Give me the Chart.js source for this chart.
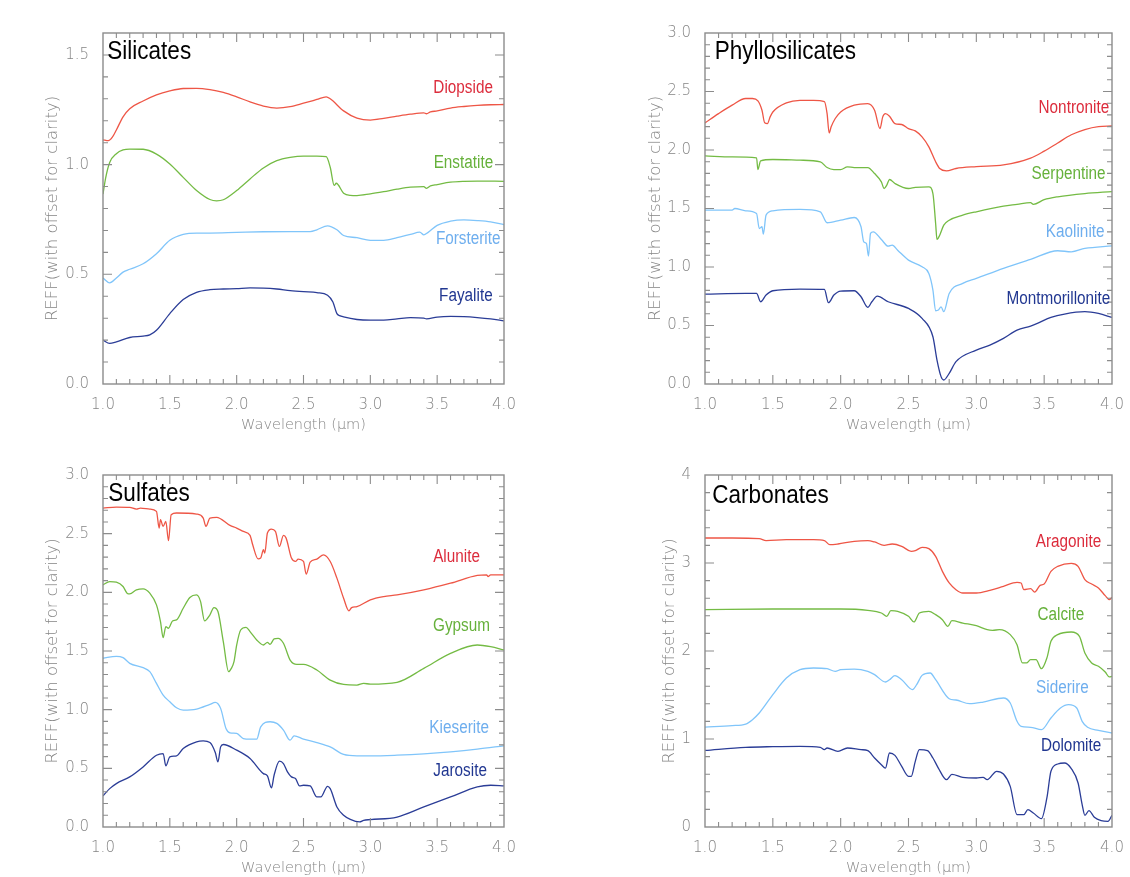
<!DOCTYPE html>
<html>
<head>
<meta charset="utf-8">
<script src="https://cdn.jsdelivr.net/npm/chart.js@4.4.1/dist/chart.umd.min.js"></script>
<style>
  body { margin: 0; background: #fff; width: 1130px; height: 877px; position: relative; overflow: hidden; }
  canvas { position: absolute; }
</style>
</head>
<body>
<canvas id="silicates" width="530" height="440" style="left:0;top:0"></canvas>
<canvas id="phyllo" width="560" height="440" style="left:570px;top:0"></canvas>
<canvas id="sulfates" width="530" height="437" style="left:0;top:440px"></canvas>
<canvas id="carbonates" width="560" height="437" style="left:570px;top:440px"></canvas>
<script>
// spectra: [wavelength (um), REFF with offset]

// Silicates
const diopside = [[1.0,1.113],[1.04,1.109],[1.07,1.125],[1.1,1.158],[1.15,1.218],[1.2,1.255],[1.3,1.29],[1.4,1.318],[1.5,1.336],[1.6,1.347],[1.7,1.348],[1.8,1.342],[1.9,1.329],[2.0,1.309],[2.1,1.286],[2.2,1.267],[2.3,1.258],[2.4,1.264],[2.5,1.28],[2.6,1.297],[2.67,1.309],[2.7,1.3],[2.8,1.245],[2.9,1.212],[3.0,1.203],[3.1,1.211],[3.2,1.221],[3.3,1.23],[3.4,1.236],[3.42,1.232],[3.45,1.24],[3.5,1.245],[3.6,1.258],[3.7,1.265],[3.8,1.27],[3.9,1.273],[4.0,1.274]];
const enstatite = [[1.0,0.866],[1.02,0.94],[1.05,1.01],[1.1,1.05],[1.15,1.067],[1.2,1.071],[1.3,1.07],[1.4,1.048],[1.5,1.003],[1.6,0.942],[1.7,0.882],[1.8,0.841],[1.85,0.835],[1.9,0.84],[2.0,0.882],[2.1,0.935],[2.2,0.985],[2.3,1.018],[2.4,1.033],[2.5,1.039],[2.6,1.039],[2.67,1.036],[2.7,0.988],[2.73,0.905],[2.745,0.915],[2.8,0.87],[2.85,0.86],[2.9,0.859],[3.0,0.867],[3.1,0.877],[3.2,0.888],[3.3,0.897],[3.4,0.9],[3.42,0.892],[3.45,0.903],[3.5,0.909],[3.6,0.92],[3.7,0.924],[3.8,0.925],[4.0,0.924]];
const forsterite = [[1.0,0.483],[1.05,0.461],[1.1,0.483],[1.15,0.51],[1.2,0.523],[1.3,0.548],[1.4,0.594],[1.5,0.655],[1.6,0.682],[1.7,0.688],[1.8,0.688],[2.0,0.691],[2.2,0.694],[2.4,0.695],[2.55,0.695],[2.6,0.703],[2.68,0.721],[2.75,0.703],[2.8,0.677],[2.9,0.667],[3.0,0.655],[3.1,0.655],[3.2,0.667],[3.3,0.682],[3.37,0.692],[3.4,0.68],[3.43,0.69],[3.5,0.723],[3.6,0.742],[3.7,0.748],[3.8,0.745],[3.9,0.739],[4.0,0.726]];
const fayalite = [[1.0,0.2],[1.05,0.185],[1.1,0.192],[1.2,0.212],[1.3,0.218],[1.35,0.224],[1.4,0.245],[1.5,0.321],[1.6,0.385],[1.7,0.418],[1.8,0.43],[1.9,0.433],[2.0,0.435],[2.1,0.438],[2.2,0.437],[2.3,0.433],[2.4,0.426],[2.5,0.421],[2.6,0.417],[2.68,0.405],[2.72,0.374],[2.75,0.321],[2.77,0.312],[2.8,0.306],[2.9,0.294],[3.0,0.291],[3.1,0.291],[3.2,0.297],[3.3,0.303],[3.4,0.3],[3.42,0.297],[3.5,0.305],[3.6,0.308],[3.7,0.307],[3.8,0.303],[3.9,0.297],[4.0,0.288]];

// Phyllosilicates
const nontronite = [[1.0,2.232],[1.1,2.311],[1.2,2.383],[1.3,2.44],[1.35,2.44],[1.39,2.42],[1.42,2.34],[1.44,2.232],[1.46,2.226],[1.48,2.283],[1.5,2.325],[1.6,2.403],[1.7,2.425],[1.8,2.425],[1.88,2.414],[1.9,2.311],[1.915,2.146],[1.93,2.198],[1.96,2.269],[2.0,2.325],[2.1,2.383],[2.2,2.397],[2.25,2.34],[2.29,2.183],[2.31,2.283],[2.33,2.311],[2.36,2.289],[2.4,2.226],[2.45,2.218],[2.5,2.183],[2.55,2.163],[2.6,2.112],[2.65,2.027],[2.7,1.899],[2.73,1.842],[2.78,1.822],[2.85,1.842],[3.0,1.858],[3.2,1.872],[3.4,1.93],[3.5,1.99],[3.6,2.06],[3.7,2.13],[3.8,2.175],[3.9,2.2],[4.0,2.205]];
const serpentine = [[1.0,1.95],[1.2,1.941],[1.38,1.933],[1.39,1.833],[1.41,1.907],[1.5,1.919],[1.7,1.913],[1.85,1.899],[1.9,1.85],[1.95,1.833],[2.0,1.833],[2.05,1.856],[2.1,1.85],[2.2,1.85],[2.25,1.799],[2.3,1.728],[2.32,1.671],[2.34,1.7],[2.36,1.748],[2.4,1.714],[2.5,1.671],[2.55,1.68],[2.65,1.685],[2.68,1.628],[2.7,1.372],[2.71,1.235],[2.73,1.272],[2.76,1.358],[2.8,1.4],[2.9,1.443],[3.0,1.472],[3.2,1.52],[3.3,1.535],[3.4,1.55],[3.42,1.535],[3.5,1.575],[3.6,1.6],[3.8,1.628],[4.0,1.645]];
const kaolinite = [[1.0,1.486],[1.2,1.486],[1.22,1.5],[1.3,1.48],[1.38,1.457],[1.4,1.329],[1.42,1.344],[1.43,1.281],[1.45,1.443],[1.5,1.48],[1.7,1.492],[1.85,1.472],[1.9,1.378],[2.0,1.4],[2.1,1.423],[2.15,1.344],[2.17,1.215],[2.19,1.201],[2.205,1.093],[2.22,1.287],[2.24,1.301],[2.3,1.235],[2.35,1.178],[2.38,1.187],[2.42,1.144],[2.5,1.059],[2.6,1.002],[2.65,0.945],[2.68,0.803],[2.7,0.626],[2.72,0.632],[2.74,0.66],[2.76,0.618],[2.8,0.774],[2.9,0.86],[3.0,0.902],[3.2,0.988],[3.4,1.065],[3.6,1.139],[3.7,1.13],[3.8,1.159],[4.0,1.181]];
const montmorillonite = [[1.0,0.769],[1.3,0.774],[1.38,0.774],[1.41,0.703],[1.45,0.76],[1.5,0.797],[1.7,0.811],[1.88,0.808],[1.91,0.695],[1.95,0.76],[2.0,0.794],[2.1,0.797],[2.15,0.746],[2.2,0.655],[2.23,0.703],[2.27,0.751],[2.35,0.703],[2.5,0.646],[2.6,0.561],[2.68,0.404],[2.71,0.205],[2.74,0.063],[2.76,0.034],[2.8,0.091],[2.85,0.191],[3.0,0.29],[3.1,0.333],[3.2,0.39],[3.3,0.461],[3.4,0.495],[3.45,0.518],[3.55,0.569],[3.65,0.598],[3.8,0.618],[3.9,0.603],[4.0,0.569]];

// Sulfates
const alunite = [[1.0,2.718],[1.1,2.727],[1.2,2.724],[1.25,2.71],[1.28,2.718],[1.35,2.71],[1.4,2.69],[1.42,2.548],[1.43,2.619],[1.45,2.562],[1.47,2.605],[1.49,2.44],[1.51,2.662],[1.55,2.676],[1.7,2.667],[1.75,2.633],[1.77,2.562],[1.8,2.633],[1.85,2.639],[1.95,2.57],[2.0,2.548],[2.05,2.519],[2.1,2.485],[2.12,2.405],[2.16,2.286],[2.18,2.292],[2.2,2.363],[2.21,2.334],[2.23,2.505],[2.26,2.539],[2.29,2.519],[2.32,2.391],[2.35,2.485],[2.37,2.462],[2.41,2.292],[2.44,2.263],[2.46,2.283],[2.5,2.263],[2.52,2.155],[2.55,2.257],[2.6,2.283],[2.65,2.32],[2.7,2.263],[2.75,2.121],[2.8,1.95],[2.84,1.842],[2.86,1.87],[2.9,1.879],[3.0,1.936],[3.1,1.964],[3.2,1.978],[3.4,2.021],[3.6,2.078],[3.8,2.144],[3.87,2.149],[3.88,2.135],[3.9,2.149],[4.0,2.149]];
const gypsum = [[1.0,2.064],[1.05,2.092],[1.1,2.087],[1.15,2.05],[1.18,1.993],[1.2,1.987],[1.25,2.021],[1.3,2.03],[1.35,1.993],[1.4,1.893],[1.43,1.751],[1.45,1.614],[1.47,1.708],[1.49,1.694],[1.52,1.756],[1.55,1.765],[1.6,1.864],[1.65,1.956],[1.7,1.978],[1.73,1.921],[1.76,1.756],[1.8,1.808],[1.83,1.87],[1.86,1.836],[1.9,1.58],[1.94,1.324],[1.96,1.352],[1.98,1.409],[2.0,1.551],[2.03,1.679],[2.07,1.702],[2.1,1.665],[2.15,1.594],[2.2,1.551],[2.23,1.574],[2.25,1.557],[2.28,1.603],[2.31,1.608],[2.35,1.566],[2.4,1.423],[2.45,1.386],[2.5,1.386],[2.6,1.338],[2.7,1.252],[2.8,1.215],[2.9,1.21],[2.95,1.224],[3.0,1.218],[3.2,1.233],[3.4,1.352],[3.6,1.48],[3.8,1.551],[3.9,1.537],[4.0,1.509]];
const kieserite = [[1.0,1.438],[1.1,1.455],[1.15,1.443],[1.2,1.395],[1.3,1.358],[1.35,1.324],[1.4,1.224],[1.45,1.124],[1.5,1.067],[1.55,1.016],[1.6,0.996],[1.7,1.005],[1.8,1.045],[1.84,1.062],[1.88,1.011],[1.92,0.84],[1.95,0.803],[2.0,0.797],[2.05,0.754],[2.1,0.749],[2.15,0.749],[2.18,0.854],[2.25,0.897],[2.3,0.883],[2.35,0.826],[2.4,0.74],[2.43,0.777],[2.5,0.749],[2.6,0.72],[2.7,0.683],[2.8,0.618],[2.9,0.606],[3.0,0.606],[3.2,0.612],[3.4,0.623],[3.6,0.64],[3.8,0.663],[4.0,0.692]];
const jarosite = [[1.0,0.265],[1.05,0.327],[1.1,0.37],[1.2,0.427],[1.3,0.512],[1.4,0.612],[1.45,0.626],[1.47,0.521],[1.5,0.598],[1.55,0.606],[1.6,0.669],[1.7,0.726],[1.75,0.734],[1.8,0.72],[1.84,0.635],[1.86,0.555],[1.88,0.683],[1.9,0.703],[2.0,0.655],[2.1,0.584],[2.2,0.455],[2.23,0.436],[2.26,0.333],[2.28,0.441],[2.32,0.561],[2.35,0.541],[2.38,0.47],[2.41,0.427],[2.44,0.413],[2.47,0.35],[2.5,0.356],[2.55,0.35],[2.6,0.256],[2.63,0.256],[2.68,0.347],[2.7,0.327],[2.75,0.171],[2.8,0.1],[2.85,0.065],[2.92,0.043],[2.95,0.057],[3.0,0.063],[3.2,0.085],[3.4,0.171],[3.6,0.256],[3.8,0.342],[3.9,0.356],[4.0,0.35]];

// Carbonates
const aragonite = [[1.0,3.284],[1.2,3.284],[1.4,3.277],[1.45,3.254],[1.6,3.265],[1.8,3.265],[1.88,3.254],[1.92,3.208],[1.98,3.216],[2.1,3.246],[2.2,3.254],[2.25,3.239],[2.32,3.201],[2.38,3.216],[2.45,3.19],[2.52,3.133],[2.55,3.14],[2.6,3.178],[2.65,3.163],[2.7,3.076],[2.75,2.905],[2.8,2.773],[2.85,2.697],[2.9,2.659],[3.0,2.659],[3.1,2.689],[3.2,2.735],[3.3,2.78],[3.33,2.773],[3.35,2.697],[3.4,2.708],[3.43,2.67],[3.47,2.746],[3.5,2.761],[3.55,2.905],[3.6,2.962],[3.7,2.996],[3.75,2.962],[3.8,2.811],[3.85,2.761],[3.9,2.716],[3.95,2.629],[3.98,2.583],[4.0,2.61]];
const calcite = [[1.0,2.47],[1.5,2.477],[2.0,2.477],[2.2,2.462],[2.3,2.432],[2.34,2.394],[2.37,2.458],[2.42,2.451],[2.5,2.394],[2.54,2.33],[2.58,2.432],[2.65,2.451],[2.7,2.413],[2.75,2.356],[2.79,2.28],[2.82,2.345],[2.9,2.318],[3.0,2.288],[3.08,2.242],[3.12,2.235],[3.17,2.242],[3.25,2.186],[3.3,2.072],[3.34,1.864],[3.37,1.864],[3.4,1.902],[3.44,1.902],[3.48,1.799],[3.52,1.92],[3.55,2.11],[3.6,2.186],[3.7,2.216],[3.76,2.167],[3.8,1.977],[3.85,1.864],[3.9,1.826],[3.95,1.761],[3.98,1.705],[4.0,1.712]];
const siderite = [[1.0,1.136],[1.2,1.152],[1.3,1.17],[1.35,1.22],[1.4,1.295],[1.5,1.504],[1.6,1.693],[1.7,1.788],[1.8,1.807],[1.9,1.799],[1.96,1.769],[2.0,1.788],[2.1,1.795],[2.2,1.769],[2.25,1.731],[2.33,1.648],[2.36,1.674],[2.4,1.72],[2.45,1.674],[2.53,1.561],[2.56,1.617],[2.6,1.723],[2.66,1.75],[2.7,1.674],[2.8,1.458],[2.85,1.443],[2.95,1.402],[3.05,1.42],[3.2,1.466],[3.25,1.409],[3.3,1.201],[3.33,1.144],[3.4,1.133],[3.48,1.106],[3.55,1.239],[3.62,1.352],[3.68,1.39],[3.74,1.352],[3.78,1.201],[3.82,1.133],[3.9,1.098],[4.0,1.068]];
const dolomite = [[1.0,0.871],[1.3,0.905],[1.5,0.913],[1.7,0.917],[1.85,0.905],[1.88,0.879],[1.9,0.898],[1.98,0.86],[2.05,0.898],[2.15,0.879],[2.2,0.867],[2.25,0.784],[2.3,0.708],[2.33,0.67],[2.36,0.841],[2.4,0.814],[2.45,0.689],[2.5,0.576],[2.52,0.576],[2.55,0.746],[2.58,0.879],[2.64,0.867],[2.68,0.784],[2.72,0.67],[2.78,0.538],[2.82,0.598],[2.9,0.564],[3.0,0.557],[3.05,0.564],[3.08,0.538],[3.15,0.633],[3.2,0.602],[3.25,0.462],[3.3,0.14],[3.35,0.14],[3.38,0.197],[3.42,0.159],[3.48,0.095],[3.52,0.33],[3.55,0.633],[3.6,0.716],[3.65,0.727],[3.7,0.663],[3.75,0.5],[3.78,0.254],[3.8,0.133],[3.83,0.186],[3.87,0.11],[3.92,0.072],[3.97,0.064],[4.0,0.133]];

// colours: [line, label]
const RED = ['#ee5646', '#dc2c3c'];
const GREEN = ['#74bb44', '#66b13b'];
const LBLUE = ['#80c5fa', '#6eaeee'];
const DBLUE = ['#2b3d97', '#213791'];

const tickGray = '#858585';
const narrow = 0.85;

function drawNarrow(ctx, text, x, y, align) {
    ctx.save();
    ctx.translate(x, y);
    ctx.scale(narrow, 1);
    ctx.textAlign = align;
    ctx.textBaseline = 'middle';
    ctx.fillText(text, 0, 0);
    ctx.restore();
}

// frame, inward ticks on all four sides, panel title and curve names
const panelDecor = {
    id: 'panelDecor',
    afterDatasetsDraw(chart, args, o) {
        const { ctx, chartArea: a, scales: { x, y } } = chart;
        ctx.save();
        ctx.strokeStyle = '#8c8c8c';
        ctx.lineWidth = 1.4;
        ctx.strokeRect(a.left, a.top, a.right - a.left, a.bottom - a.top);

        ctx.lineWidth = 1.1;
        ctx.beginPath();
        const mark = (scale, v, len) => {
            const p = scale.getPixelForValue(v);
            if (scale.axis === 'x') {
                ctx.moveTo(p, a.bottom); ctx.lineTo(p, a.bottom - len);
                ctx.moveTo(p, a.top); ctx.lineTo(p, a.top + len);
            } else {
                ctx.moveTo(a.left, p); ctx.lineTo(a.left + len, p);
                ctx.moveTo(a.right, p); ctx.lineTo(a.right - len, p);
            }
        };
        [[x, o.xMinor], [y, o.yMinor]].forEach(([s, step]) => {
            const n = Math.round((s.max - s.min) / step);
            for (let i = 1; i < n; i++) {
                const v = s.min + i * step;
                const major = s.ticks.some(t => Math.abs(t.value - v) < step / 10);
                mark(s, v, major ? 9 : 5);
            }
        });
        ctx.stroke();

        ctx.fillStyle = '#000';
        ctx.font = '26.5px "Liberation Sans", Arial, sans-serif';
        drawNarrow(ctx, o.title, x.getPixelForValue(o.titleAt[0]), y.getPixelForValue(o.titleAt[1]), 'left');

        ctx.font = '18px "Liberation Sans", Arial, sans-serif';
        o.labels.forEach(l => {
            ctx.fillStyle = l.color;
            drawNarrow(ctx, l.text, x.getPixelForValue(l.at[0]), y.getPixelForValue(l.at[1]), 'right');
        });
        ctx.restore();
    }
};

function makePanel(id, p) {
    return new Chart(document.getElementById(id), {
        type: 'line',
        data: {
            datasets: p.series.map(s => ({
                label: s.name,
                data: s.data.map(([w, r]) => ({ x: w, y: r })),
                borderColor: s.color[0],
                borderWidth: 1.3,
                pointRadius: 0,
                fill: false,
                cubicInterpolationMode: 'monotone'
            }))
        },
        options: {
            responsive: false,
            animation: false,
            layout: { padding: { top: p.padTop, right: p.padRight, left: 0, bottom: 0 } },
            plugins: {
                legend: { display: false },
                tooltip: { enabled: false },
                panelDecor: {
                    title: p.title,
                    titleAt: p.titleAt,
                    xMinor: 0.1,
                    yMinor: p.yMinor,
                    labels: p.series.map((s, i) => ({ text: s.name, color: s.color[1], at: p.labelAt[i] }))
                }
            },
            scales: {
                x: {
                    type: 'linear',
                    min: 1, max: 4,
                    grid: { display: false },
                    border: { display: false },
                    ticks: {
                        stepSize: 0.5,
                        includeBounds: false,
                        maxRotation: 0,
                        padding: 4,
                        color: tickGray,
                        font: { family: 'DejaVu Sans', size: 15, weight: '200' },
                        callback: v => v.toFixed(1)
                    },
                    title: {
                        display: true,
                        text: 'Wavelength (μm)',
                        color: tickGray,
                        font: { family: 'DejaVu Sans', size: 14.5, weight: '200' },
                        padding: { top: 0, bottom: p.xTitlePad }
                    },
                    afterFit: s => { s.height = p.xAxisH; }
                },
                y: {
                    min: 0, max: p.yMax,
                    grid: { display: false },
                    border: { display: false },
                    ticks: {
                        stepSize: p.yStep,
                        includeBounds: false,
                        padding: 6,
                        color: tickGray,
                        font: { family: 'DejaVu Sans', size: 15, weight: '200' },
                        callback: v => v.toFixed(p.yDigits)
                    },
                    title: {
                        display: true,
                        text: 'REFF(with offset for clarity)',
                        color: tickGray,
                        font: { family: 'DejaVu Sans', size: 16.5, weight: '200' },
                        padding: { top: p.yTitlePad, bottom: 0 }
                    },
                    afterFit: s => { s.width = p.yAxisW; }
                }
            }
        },
        plugins: [panelDecor]
    });
}

makePanel('silicates', {
    title: 'Silicates', titleAt: [1.032, 1.517],
    yMax: 1.6, yStep: 0.5, yMinor: 0.1, yDigits: 1,
    padTop: 33, padRight: 26, yAxisW: 103, xAxisH: 56, xTitlePad: 6, yTitlePad: 43,
    series: [
        { name: 'Diopside', data: diopside, color: RED },
        { name: 'Enstatite', data: enstatite, color: GREEN },
        { name: 'Forsterite', data: forsterite, color: LBLUE },
        { name: 'Fayalite', data: fayalite, color: DBLUE }
    ],
    labelAt: [[3.917, 1.348], [3.919, 1.006], [3.974, 0.66], [3.915, 0.402]]
});

makePanel('phyllo', {
    title: 'Phyllosilicates', titleAt: [1.071, 2.84],
    yMax: 3.0, yStep: 0.5, yMinor: 0.1, yDigits: 1,
    padTop: 33, padRight: 18, yAxisW: 135, xAxisH: 56, xTitlePad: 6, yTitlePad: 76,
    series: [
        { name: 'Nontronite', data: nontronite, color: RED },
        { name: 'Serpentine', data: serpentine, color: GREEN },
        { name: 'Kaolinite', data: kaolinite, color: LBLUE },
        { name: 'Montmorillonite', data: montmorillonite, color: DBLUE }
    ],
    labelAt: [[3.979, 2.36], [3.953, 1.793], [3.945, 1.295], [3.987, 0.723]]
});

makePanel('sulfates', {
    title: 'Sulfates', titleAt: [1.04, 2.84],
    yMax: 3.0, yStep: 0.5, yMinor: 0.1, yDigits: 1,
    padTop: 35, padRight: 26, yAxisW: 103, xAxisH: 50, xTitlePad: 0, yTitlePad: 43,
    series: [
        { name: 'Alunite', data: alunite, color: RED },
        { name: 'Gypsum', data: gypsum, color: GREEN },
        { name: 'Kieserite', data: kieserite, color: LBLUE },
        { name: 'Jarosite', data: jarosite, color: DBLUE }
    ],
    labelAt: [[3.82, 2.3], [3.895, 1.714], [3.887, 0.84], [3.872, 0.475]]
});

makePanel('carbonates', {
    title: 'Carbonates', titleAt: [1.054, 3.76],
    yMax: 4, yStep: 1, yMinor: 0.2, yDigits: 0,
    padTop: 35, padRight: 18, yAxisW: 135, xAxisH: 50, xTitlePad: 0, yTitlePad: 90,
    series: [
        { name: 'Aragonite', data: aragonite, color: RED },
        { name: 'Calcite', data: calcite, color: GREEN },
        { name: 'Siderire', data: siderite, color: LBLUE },
        { name: 'Dolomite', data: dolomite, color: DBLUE }
    ],
    labelAt: [[3.921, 3.235], [3.795, 2.405], [3.829, 1.58], [3.921, 0.924]]
});
</script>
</body>
</html>
